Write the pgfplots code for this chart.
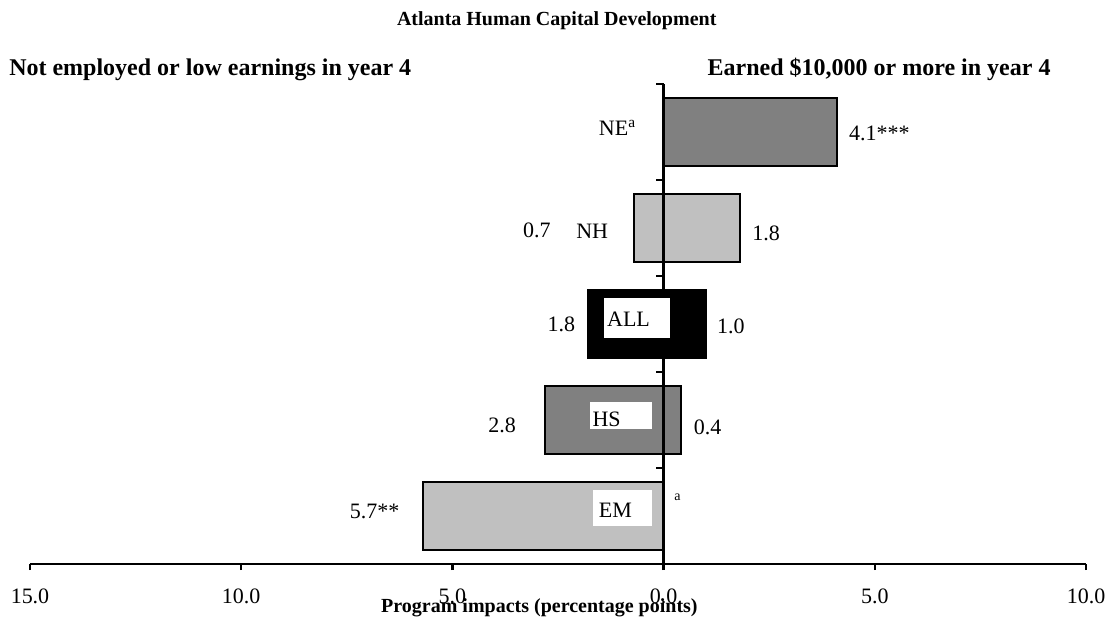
\documentclass[border=0pt]{standalone}
\usepackage{pgfplots}
\pgfplotsset{compat=1.18}
\usepackage{fontspec}
\setmainfont{Liberation Serif}
\definecolor{darkbar}{RGB}{128,128,128}
\definecolor{lightbar}{RGB}{192,192,192}
\newcommand{\lab}{\fontsize{11}{13}\selectfont}

\begin{document}
\begin{tikzpicture}[font=\lab]
\path[use as bounding box] (-15pt,-31.5pt) rectangle (542.5pt,282pt);
\begin{axis}[
    scale only axis,
    width=528pt, height=240pt,
    xmin=-15, xmax=10, ymin=0, ymax=5,
    axis x line=bottom, axis y line=none,
    x axis line style={-, line width=1.2pt},
    xtick={-15,-10,-5,0,5,10},
    xticklabels={15.0,10.0,5.0,0.0,5.0,10.0},
    tick align=outside,
    major tick length=3pt,
    xtick style={black, line width=1.2pt},
    xticklabel style={yshift=-6pt, font=\lab},
    ytick=\empty,
    clip=false,
    every axis plot/.append style={xbar, bar width=0.71, bar shift=0pt, draw=black, line width=1pt},
]
% NE
\addplot[fill=darkbar] coordinates {(4.1,4.5)};
% NH
\addplot[fill=lightbar] coordinates {(-0.7,3.5) (1.8,3.5)};
% ALL
\addplot[fill=black] coordinates {(-1.8,2.5) (1.0,2.5)};
% HS
\addplot[fill=darkbar] coordinates {(-2.8,1.5) (0.4,1.5)};
% EM
\addplot[fill=lightbar] coordinates {(-5.7,0.5)};

% vertical line at zero with its ticks
\draw[line width=1.2pt] (axis cs:0,0) -- (axis cs:0,5);
\draw[line width=1.2pt] (axis cs:0,1) -- (axis cs:-0.17,1);
\draw[line width=1.2pt] (axis cs:0,2) -- (axis cs:-0.17,2);
\draw[line width=1.2pt] (axis cs:0,3) -- (axis cs:-0.17,3);
\draw[line width=1.2pt] (axis cs:0,4) -- (axis cs:-0.17,4);
\draw[line width=1.2pt] (axis cs:0,5) -- (axis cs:-0.17,5);

% white label boxes
\fill[white] (axis cs:-1.42,2.35) rectangle (axis cs:0.14,2.77);
\fill[white] (axis cs:-1.75,1.41) rectangle (axis cs:-0.28,1.69);
\fill[white] (axis cs:-1.66,0.40) rectangle (axis cs:-0.28,0.77);

% group labels
\node at (axis cs:-1.09,4.54) {NE\textsuperscript{a}};
\node at (axis cs:-1.69,3.47) {NH};
\node at (axis cs:-0.83,2.55) {ALL};
\node at (axis cs:-1.35,1.51) {HS};
\node at (axis cs:-1.14,0.56) {EM};

% values
\node[anchor=west, inner sep=0pt] at (axis cs:4.38,4.49) {4.1***};
\node at (axis cs:-3.0,3.48) {0.7};
\node at (axis cs:2.43,3.44) {1.8};
\node at (axis cs:-2.42,2.5) {1.8};
\node at (axis cs:1.59,2.48) {1.0};
\node at (axis cs:-3.82,1.44) {2.8};
\node at (axis cs:1.04,1.42) {0.4};
\node at (axis cs:-6.84,0.55) {5.7**};
\node[font=\scriptsize] at (axis cs:0.33,0.69) {a};

% headings
\node[font=\fontsize{10}{12}\selectfont\bfseries] at (axis cs:-2.53,5.66) {Atlanta Human Capital Development};
\node[font=\fontsize{12}{14}\selectfont\bfseries, anchor=west, inner sep=0pt] at (axis cs:-15.5,5.15) {Not employed or low earnings in year 4};
\node[font=\fontsize{12}{14}\selectfont\bfseries, anchor=east, inner sep=0pt] at (axis cs:9.17,5.15) {Earned \$10,000 or more in year 4};
\node[font=\fontsize{10}{12}\selectfont\bfseries] at (axis cs:-2.94,-0.46) {Program impacts (percentage points)};
\end{axis}
\end{tikzpicture}
\end{document}
